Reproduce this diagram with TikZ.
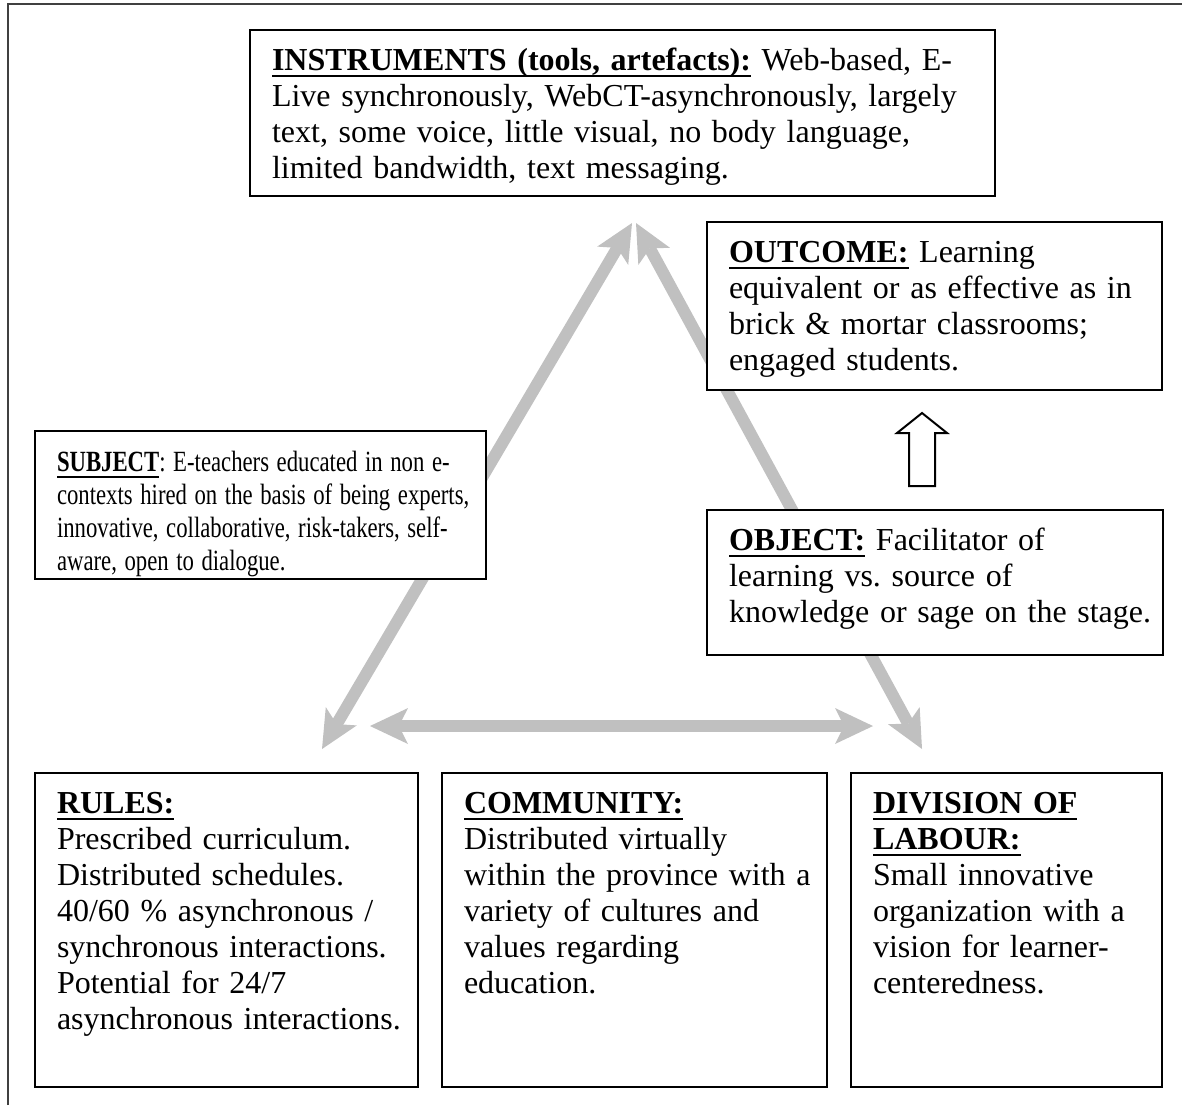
\documentclass[tikz,border=0pt]{standalone}
\usepackage{fontspec}
\usepackage{graphicx}
\setmainfont{Liberation Serif}
\usetikzlibrary{arrows.meta,backgrounds}
\definecolor{arrgray}{HTML}{C0C0C0}
\frenchspacing
\newsavebox\ulbox
\newcommand\bul[1]{\leavevmode\sbox\ulbox{\textbf{#1}}\rlap{\rule[-2.8pt]{\wd\ulbox}{1.1pt}}\usebox\ulbox}
\newcommand\cond[1]{\mbox{\scalebox{0.775}[1]{#1}}}
\tikzset{
  gtip/.tip={Stealth[length=14.25pt,width=13.5pt,inset=3.4pt,line width=0pt]},
  box/.style={draw, line width=0.75pt, fill=white, anchor=north west,
    inner xsep=8.25pt, inner ysep=0pt, text height=15pt, align=left,
    font=\fontsize{12pt}{13.5pt}\selectfont\frenchspacing},
  conn/.style={draw=arrgray, line width=4.5pt, gtip-gtip},
  frame/.style={draw=black!75, line width=1pt},
  hollow/.style={draw=black, line width=0.75pt, fill=white, line join=miter}
}
\begin{document}
\begin{tikzpicture}[x=0.375pt, y=-0.375pt]
\useasboundingbox (0,0) rectangle (1182,1105);
\draw[frame] (8,1105) -- (8,4) -- (1182,4);

\node[box, text width=262.875pt, text depth=47.25pt] (instr) at (249,29)
  {\mbox{\bul{INSTRUMENTS (tools, artefacts):} Web-based, E-}\\
   \mbox{Live synchronously, WebCT-asynchronously, largely}\\
   \mbox{text, some voice, little visual, no body language,}\\
   \mbox{limited bandwidth, text messaging.}};

\node[box, text width=154.125pt, text depth=48pt] (outcome) at (706,221)
  {\mbox{\bul{OUTCOME:} Learning}\\
   \mbox{equivalent or as effective as in}\\
   \mbox{brick \& mortar classrooms;}\\
   \mbox{engaged students.}};

\node[box, text width=152.625pt, text depth=40.5pt,
      font=\fontsize{11pt}{12.375pt}\selectfont\frenchspacing] (subject) at (34,430)
  {\cond{\bul{SUBJECT}: E-teachers educated in non e-}\\
   \cond{contexts hired on the basis of being experts,}\\
   \cond{innovative, collaborative, risk-takers, self-}\\
   \cond{aware, open to dialogue.}};

\node[box, text width=154.5pt, text depth=39.375pt] (object) at (706,509)
  {\mbox{\bul{OBJECT:} Facilitator of}\\
   \mbox{learning vs. source of}\\
   \mbox{knowledge or sage on the stage.}};

\node[box, text width=127.125pt, text depth=102.75pt] (rules) at (34,772)
  {\mbox{\bul{RULES:}}\\
   \mbox{Prescribed curriculum.}\\
   \mbox{Distributed schedules.}\\
   \mbox{40/60 \% asynchronous /}\\
   \mbox{synchronous interactions.}\\
   \mbox{Potential for 24/7}\\
   \mbox{asynchronous interactions.}};

\node[box, text width=127.875pt, text depth=102.75pt] (community) at (441,772)
  {\mbox{\bul{COMMUNITY:}}\\
   \mbox{Distributed virtually}\\
   \mbox{within the province with a}\\
   \mbox{variety of cultures and}\\
   \mbox{values regarding}\\
   \mbox{education.}};

\node[box, text width=100.125pt, text depth=102.75pt] (division) at (850,772)
  {\mbox{\bul{DIVISION OF}}\\
   \mbox{\bul{LABOUR:}}\\
   \mbox{Small innovative}\\
   \mbox{organization with a}\\
   \mbox{vision for learner-}\\
   \mbox{centeredness.}};

\draw[hollow] (922,413) -- (947,433) -- (935,433) -- (935,486) -- (909,486)
  -- (909,433) -- (897,433) -- cycle;

\coordinate (subjEnd) at (322,749);
\coordinate (instrL) at (632,223);
\coordinate (instrR) at (636,223);
\coordinate (divEnd) at (922,749);
\coordinate (rulesEnd) at (370,726);
\coordinate (commEnd) at (873,726);

\begin{pgfonlayer}{background}
  \draw[conn] (subjEnd) -- (instrL);
  \draw[conn] (instrR) -- (divEnd);
  \draw[conn] (rulesEnd) -- (commEnd);
\end{pgfonlayer}
\end{tikzpicture}
\end{document}
